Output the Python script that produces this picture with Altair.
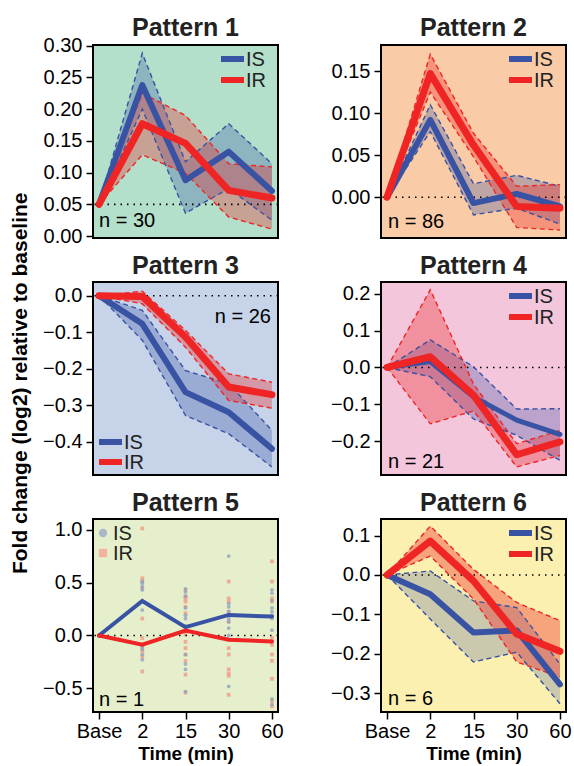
import altair as alt
import pandas as pd

TIMES = ["Base", "2", "15", "30", "60"]
XPOS = [0, 1, 2, 3, 4]

# ---- Pattern 1 ----
P1_IS_MEAN = [0.05, 0.238, 0.088, 0.133, 0.071]
P1_IS_LO = [0.05, 0.200, 0.036, 0.075, 0.025]
P1_IS_HI = [0.05, 0.288, 0.117, 0.177, 0.114]
P1_IR_MEAN = [0.05, 0.177, 0.146, 0.072, 0.060]
P1_IR_LO = [0.05, 0.128, 0.099, 0.030, 0.011]
P1_IR_HI = [0.05, 0.225, 0.190, 0.114, 0.109]

# ---- Pattern 2 ----
P2_IS_MEAN = [0.0, 0.092, -0.007, 0.004, -0.011]
P2_IS_LO = [0.0, 0.078, -0.021, -0.013, -0.032]
P2_IS_HI = [0.0, 0.110, 0.016, 0.026, 0.013]
P2_IR_MEAN = [0.0, 0.147, 0.062, -0.011, -0.013]
P2_IR_LO = [0.0, 0.125, 0.048, -0.036, -0.039]
P2_IR_HI = [0.0, 0.170, 0.076, 0.013, 0.015]

# ---- Pattern 3 ----
P3_IS_MEAN = [0.0, -0.077, -0.264, -0.319, -0.419]
P3_IS_LO = [0.0, -0.122, -0.328, -0.378, -0.469]
P3_IS_HI = [0.0, -0.040, -0.205, -0.241, -0.369]
P3_IR_MEAN = [0.0, -0.002, -0.113, -0.250, -0.271]
P3_IR_LO = [0.0, -0.022, -0.141, -0.287, -0.308]
P3_IR_HI = [0.0, 0.012, -0.095, -0.214, -0.237]

# ---- Pattern 4 ----
P4_IS_MEAN = [0.0, 0.016, -0.080, -0.143, -0.182]
P4_IS_LO = [0.0, -0.025, -0.140, -0.184, -0.252]
P4_IS_HI = [0.0, 0.075, 0.002, -0.113, -0.112]
P4_IR_MEAN = [0.0, 0.029, -0.075, -0.237, -0.202]
P4_IR_LO = [0.0, -0.153, -0.118, -0.270, -0.239]
P4_IR_HI = [0.0, 0.211, -0.045, -0.207, -0.171]

# ---- Pattern 5 (single protein, replicate points) ----
P5_IS_MEAN = [0.0, 0.325, 0.078, 0.194, 0.178]
P5_IR_MEAN = [0.0, -0.088, 0.047, -0.041, -0.056]
P5_IS_PTS = [
    [0.0],
    [0.51, 0.49, 0.46, 0.43, 0.32, 0.24, -0.10, -0.13, -0.18, -0.23],
    [0.44, 0.41, 0.37, 0.26, 0.19, 0.16, 0.09, 0.04, -0.18, -0.27, -0.32, -0.53],
    [0.75, 0.30, 0.27, 0.225, 0.19, 0.16, 0.13, 0.07, 0.0, -0.48],
    [0.43, 0.40, 0.33, 0.26, 0.225, 0.19, 0.16, 0.05, -0.06, -0.60, -0.65],
]
P5_IR_PTS = [
    [0.0],
    [1.01, 0.54, 0.51, 0.45, 0.16, -0.025, -0.09, -0.12, -0.15, -0.20, -0.34],
    [0.43, 0.37, 0.35, 0.32, 0.27, 0.21, 0.05, 0.01, -0.06, -0.12, -0.18, -0.24, -0.37, -0.54],
    [0.51, 0.35, 0.32, 0.225, 0.13, -0.04, -0.12, -0.18, -0.32, -0.36, -0.38, -0.56],
    [0.70, 0.51, 0.35, 0.32, 0.18, -0.025, -0.09, -0.18, -0.24, -0.41, -0.62, -0.67],
]

# ---- Pattern 6 ----
P6_IS_MEAN = [0.0, -0.049, -0.146, -0.141, -0.278]
P6_IS_LO = [0.0, -0.112, -0.221, -0.196, -0.327]
P6_IS_HI = [0.0, 0.010, -0.066, -0.083, -0.226]
P6_IR_MEAN = [0.0, 0.086, -0.015, -0.150, -0.194]
P6_IR_LO = [0.0, 0.048, -0.061, -0.221, -0.259]
P6_IR_HI = [0.0, 0.124, 0.014, -0.070, -0.116]

PATTERN_TITLES = ["Pattern 1", "Pattern 2", "Pattern 3", "Pattern 4", "Pattern 5", "Pattern 6"]
PATTERN_N = ["n = 30", "n = 86", "n = 26", "n = 21", "n = 1", "n = 6"]
BG = ["#b3dfcb", "#f9cba6", "#c6d3e8", "#f4c6dc", "#e5efcb", "#fcf0b0"]
IS_COL = "#3953a4"
IR_COL = "#ee2524"

W, H = 185, 193
FONT = "Liberation Sans"
LABEL_EXPR = "[" + ",".join("'%s'" % t for t in TIMES) + "][datum.value]"


def series_df(is_mean, is_lo, is_hi, ir_mean, ir_lo, ir_hi):
    rows = []
    for i in range(len(XPOS)):
        rows.append(dict(x=XPOS[i], s="IS", mean=is_mean[i], lo=is_lo[i], hi=is_hi[i]))
    for i in range(len(XPOS)):
        rows.append(dict(x=XPOS[i], s="IR", mean=ir_mean[i], lo=ir_lo[i], hi=ir_hi[i]))
    return pd.DataFrame(rows)


ONE = pd.DataFrame({"k": [0]})


def xenc(bottom):
    sc = alt.Scale(domain=[-0.14, 4.14], nice=False, zero=False)
    if bottom:
        ax = alt.Axis(values=XPOS, labelExpr=LABEL_EXPR, title="Time (min)", grid=False,
                      domain=False, tickSize=7, tickWidth=1.5, tickColor="black",
                      labelFontSize=20, labelColor="black", labelPadding=2,
                      titleFontSize=19, titleFontWeight="bold", titleColor="black",
                      titlePadding=3)
    else:
        ax = None
    return sc, ax


def yaxis(ticks, fmt):
    return alt.Axis(values=ticks, format=fmt, title=None, grid=False, domain=False,
                    tickSize=7, tickWidth=1.5, tickColor="black", labelFontSize=20,
                    labelColor="black", labelPadding=4, minExtent=52, maxExtent=52)


def legend_lines(x0, y_is, y_ir):
    out = []
    for lab, col, yy in (("IS", IS_COL, y_is), ("IR", IR_COL, y_ir)):
        out.append(alt.Chart(ONE).mark_rule(color=col, strokeWidth=6).encode(
            x=alt.value(x0), x2=alt.value(x0 + 23), y=alt.value(yy)))
        out.append(alt.Chart(ONE).mark_text(text=lab, align="left", baseline="middle",
                                            fontSize=20, color="#222222").encode(
            x=alt.value(x0 + 25), y=alt.value(yy + 1)))
    return out


def n_label(text, x, y, align="left"):
    return alt.Chart(ONE).mark_text(text=text, align=align, baseline="middle",
                                    fontSize=20, color="black").encode(
        x=alt.value(x), y=alt.value(y))


def title_mark(text, dy):
    return alt.Chart(ONE).mark_text(text=text, align="center", baseline="alphabetic",
                                    fontSize=25, fontWeight="bold", color="#222222").encode(
        x=alt.value(W / 2), y=alt.value(dy))


def band_panel(idx, df, domain, ticks, fmt, ref, n_xy, n_align, leg, tdy,
               bottom=False, is_w=6, ir_w=7, is_op=0.3, ir_op=0.33):
    xs, xa = xenc(bottom)
    ys = alt.Scale(domain=domain, nice=False, zero=False)
    ya = yaxis(ticks, fmt)
    base = alt.Chart(df)
    layers = []
    for s, col, op in (("IS", IS_COL, is_op), ("IR", IR_COL, ir_op)):
        layers.append(base.transform_filter(alt.datum.s == s).mark_area(
            color=col, opacity=op).encode(
            x=alt.X("x:Q", scale=xs, axis=xa), y=alt.Y("lo:Q", scale=ys, axis=ya),
            y2="hi:Q"))
    layers.append(alt.Chart(pd.DataFrame({"v": [ref]})).mark_rule(
        color="black", strokeDash=[1.5, 5], strokeWidth=1.6).encode(
        y=alt.Y("v:Q", scale=ys, axis=ya)))
    for s, col in (("IS", IS_COL), ("IR", IR_COL)):
        for f in ("lo", "hi"):
            layers.append(base.transform_filter(alt.datum.s == s).mark_line(
                color=col, strokeDash=[5, 3.5], strokeWidth=1.4).encode(
                x=alt.X("x:Q", scale=xs, axis=xa), y=alt.Y(f + ":Q", scale=ys, axis=ya)))
    for s, col, w in (("IS", IS_COL, is_w), ("IR", IR_COL, ir_w)):
        layers.append(base.transform_filter(alt.datum.s == s).mark_line(
            color=col, strokeWidth=w, strokeCap="round", strokeJoin="round").encode(
            x=alt.X("x:Q", scale=xs, axis=xa), y=alt.Y("mean:Q", scale=ys, axis=ya)))
    layers += legend_lines(*leg)
    layers.append(n_label(PATTERN_N[idx], n_xy[0], n_xy[1], n_align))
    layers.append(title_mark(PATTERN_TITLES[idx], tdy))
    return alt.layer(*layers).properties(
        width=W, height=H,
        view=alt.ViewBackground(fill=BG[idx], stroke="black", strokeWidth=2),
    )


def pattern5(tdy):
    xs, xa = xenc(True)
    ys = alt.Scale(domain=[-0.723, 1.10], nice=False, zero=False)
    ya = yaxis([-0.5, 0.0, 0.5, 1.0], ".1f")
    prow = []
    for s, pts in (("IS", P5_IS_PTS), ("IR", P5_IR_PTS)):
        for i, vals in enumerate(pts):
            for v in vals:
                prow.append(dict(x=XPOS[i], s=s, v=v))
    pdf = pd.DataFrame(prow)
    mdf = pd.DataFrame(
        [dict(x=XPOS[i], s="IS", mean=P5_IS_MEAN[i]) for i in range(5)]
        + [dict(x=XPOS[i], s="IR", mean=P5_IR_MEAN[i]) for i in range(5)])
    layers = [
        alt.Chart(pdf).transform_filter(alt.datum.s == "IR").mark_point(
            shape="square", filled=True, color="#f0a08c", opacity=0.85, size=14).encode(
            x=alt.X("x:Q", scale=xs, axis=xa), y=alt.Y("v:Q", scale=ys, axis=ya)),
        alt.Chart(pdf).transform_filter(alt.datum.s == "IS").mark_point(
            shape="circle", filled=True, color="#8fa2c0", opacity=0.8, size=14).encode(
            x=alt.X("x:Q", scale=xs, axis=xa), y=alt.Y("v:Q", scale=ys, axis=ya)),
        alt.Chart(pd.DataFrame({"v": [0.0]})).mark_rule(
            color="black", strokeDash=[1.5, 5], strokeWidth=1.6).encode(
            y=alt.Y("v:Q", scale=ys, axis=ya)),
    ]
    for s, col in (("IS", IS_COL), ("IR", IR_COL)):
        layers.append(alt.Chart(mdf).transform_filter(alt.datum.s == s).mark_line(
            color=col, strokeWidth=4, strokeCap="round").encode(
            x=alt.X("x:Q", scale=xs, axis=xa), y=alt.Y("mean:Q", scale=ys, axis=ya)))
    for lab, col, shp, yy in (("IS", "#a8b8c6", "circle", 14), ("IR", "#f2b49e", "square", 34)):
        layers.append(alt.Chart(ONE).mark_point(shape=shp, filled=True, color=col,
                                                opacity=1, size=70).encode(
            x=alt.value(10), y=alt.value(yy)))
        layers.append(alt.Chart(ONE).mark_text(text=lab, align="left", baseline="middle",
                                               fontSize=20, color="#222222").encode(
            x=alt.value(20), y=alt.value(yy + 1)))
    layers.append(n_label(PATTERN_N[4], 6, 181))
    layers.append(title_mark(PATTERN_TITLES[4], tdy))
    return alt.layer(*layers).properties(
        width=W, height=H,
        view=alt.ViewBackground(fill=BG[4], stroke="black", strokeWidth=2),
    )


p1 = band_panel(0, series_df(P1_IS_MEAN, P1_IS_LO, P1_IS_HI, P1_IR_MEAN, P1_IR_LO, P1_IR_HI),
                [-0.003, 0.301], [0, 0.05, 0.10, 0.15, 0.20, 0.25, 0.30], ".2f", 0.05,
                (6, 176), "left", (128, 14, 35), -9.5)
p2 = band_panel(1, series_df(P2_IS_MEAN, P2_IS_LO, P2_IS_HI, P2_IR_MEAN, P2_IR_LO, P2_IR_HI),
                [-0.0485, 0.181], [0, 0.05, 0.10, 0.15], ".2f", 0.0,
                (7, 177), "left", (128, 14, 35), -9.5)
p3 = band_panel(2, series_df(P3_IS_MEAN, P3_IS_LO, P3_IS_HI, P3_IR_MEAN, P3_IR_LO, P3_IR_HI),
                [-0.491, 0.0375], [0.0, -0.1, -0.2, -0.3, -0.4], ".1f", 0.0,
                (178, 35), "right", (6, 160, 180), -8)
p4 = band_panel(3, series_df(P4_IS_MEAN, P4_IS_LO, P4_IS_HI, P4_IR_MEAN, P4_IR_LO, P4_IR_HI),
                [-0.292, 0.232], [-0.2, -0.1, 0.0, 0.1, 0.2], ".1f", 0.0,
                (7, 180), "left", (128, 14, 35), -8, is_w=5)
p5 = pattern5(-8)
p6 = band_panel(5, series_df(P6_IS_MEAN, P6_IS_LO, P6_IS_HI, P6_IR_MEAN, P6_IR_LO, P6_IR_HI),
                [-0.348, 0.142], [-0.3, -0.2, -0.1, 0.0, 0.1], ".1f", 0.0,
                (7, 180), "left", (128, 14, 35), -8, bottom=True,
                is_op=0.25, ir_op=0.38)

chart = alt.concat(
    p1, p2, p3, p4, p5, p6, columns=2, bounds="flush",
    spacing={"row": 44, "column": 103},
).resolve_scale(
    x="independent", y="independent"
).properties(
    title=alt.TitleParams("Fold change (log2) relative to baseline", orient="left",
                          anchor="middle", fontSize=21, fontWeight="bold", color="black",
                          offset=9, dx=6),
    padding={"left": 9, "top": 14, "right": 0, "bottom": 0},
).configure(font=FONT).configure_view(continuousWidth=W, continuousHeight=H)

chart.save("out.html", embed_options={"renderer": "svg", "actions": False})
